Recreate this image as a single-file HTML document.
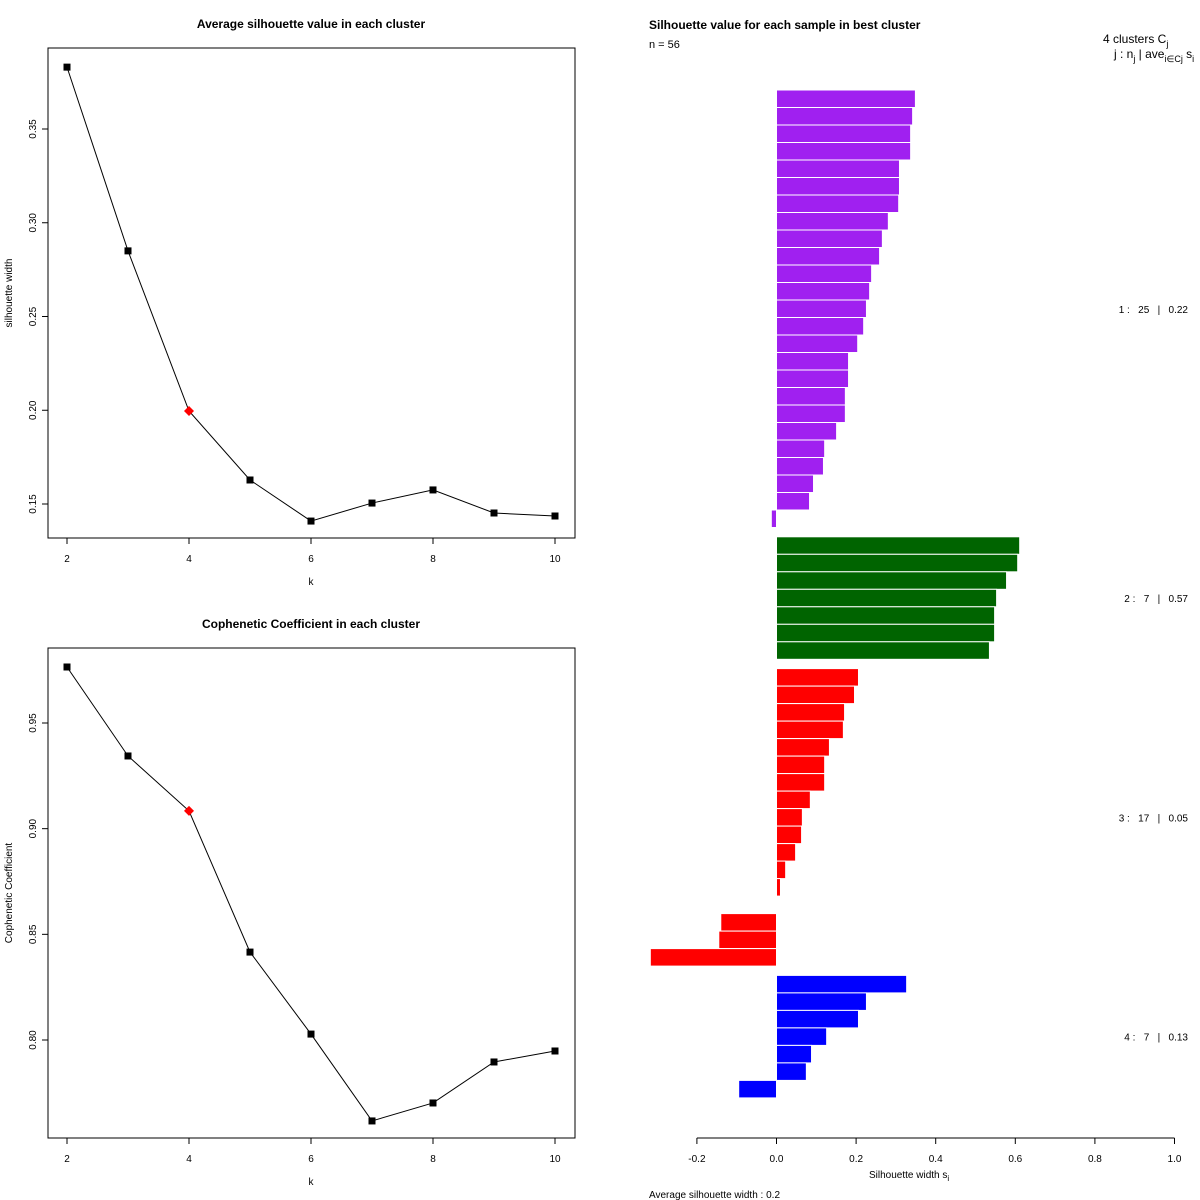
<!DOCTYPE html>
<html><head><meta charset="utf-8"><style>
body{margin:0;background:#fff}
svg{display:block;font-family:"Liberation Sans",sans-serif}
.pre{white-space:pre}
</style></head><body>
<svg id="c" width="1200" height="1200" xmlns="http://www.w3.org/2000/svg"></svg>
<script>
const ks=[2,3,4,5,6,7,8,9,10];
const silAvg=[0.383,0.285,0.1996,0.1628,0.1409,0.1505,0.1575,0.1452,0.1436];
const coph=[0.9765,0.9344,0.9084,0.8416,0.8028,0.7617,0.7702,0.7896,0.7948];
const bestK=4;
const silTicks=[0.15,0.20,0.25,0.30,0.35];
const cophTicks=[0.80,0.85,0.90,0.95];
const kTicks=[2,4,6,8,10];
const clusterSizes=[25,7,17,7];
const clusterAvg=["0.22","0.57","0.05","0.13"];
const clusterColors=["#A020F0","#006400","#FF0000","#0000FF"];
const sampleSil=[
0.349,0.342,0.337,0.337,0.309,0.309,0.307,0.281,0.266,0.259,0.239,0.234,0.226,0.219,0.204,0.181,0.181,0.173,0.173,0.151,0.121,0.118,0.093,0.083,-0.013,
0.611,0.606,0.578,0.553,0.548,0.548,0.535,
0.206,0.196,0.171,0.168,0.133,0.121,0.121,0.085,0.065,0.063,0.048,0.023,0.01,0,-0.14,-0.145,-0.317,
0.327,0.226,0.206,0.126,0.088,0.075,-0.095];
const silXTicks=[-0.2,0,0.2,0.4,0.6,0.8,1.0];

const svg=document.getElementById('c');
const NS='http://www.w3.org/2000/svg';
function el(t,a,p){const e=document.createElementNS(NS,t);for(const k in a)e.setAttribute(k,a[k]);(p||svg).appendChild(e);return e;}
function txt(s,a,p){const e=el('text',a,p);e.textContent=s;return e;}

function linePanel(name,vals,ticks,top,bot,yTop,yBot,tTop,tBot,title,ylab){
  const g=el('g',{});
  
  
  const xs=k=>67+(k-2)*61;
  const ys=v=>yTop+(tTop-v)/(tTop-tBot)*(yBot-yTop);
  const box=el('rect',{x:48,y:top,width:527,height:bot-top,fill:'none',stroke:'#000','stroke-width':1},g);
  
  const t=txt(title,{x:311,y:top-20,'text-anchor':'middle','font-size':12,'font-weight':'bold'},g);
  
  kTicks.forEach(k=>{el('line',{x1:xs(k),x2:xs(k),y1:bot,y2:bot+6,stroke:'#000'},g);
    const l=txt(k,{x:xs(k),y:bot+24,'text-anchor':'middle','font-size':10},g);
    });
  const xl=txt('k',{x:311,y:bot+47,'text-anchor':'middle','font-size':10},g);
  
  ticks.forEach(v=>{const y=ys(v);el('line',{x1:42,x2:48,y1:y,y2:y,stroke:'#000'},g);
    const l=txt(v.toFixed(2),{x:36,y:y,'text-anchor':'middle','font-size':10,transform:`rotate(-90 36 ${y})`},g);
    });
  const my=(top+bot)/2;
  const yl=txt(ylab,{x:12,y:my,'text-anchor':'middle','font-size':10,transform:`rotate(-90 12 ${my})`},g);
  
  const pts=ks.map((k,i)=>xs(k)+','+ys(vals[i])).join(' ');
  const pl=el('polyline',{points:pts,fill:'none',stroke:'#000','stroke-width':1},g);
  
  ks.forEach((k,i)=>{const x=xs(k),y=ys(vals[i]);
    if(k===bestK){const d=el('polygon',{points:`${x},${y-5} ${x+5},${y} ${x},${y+5} ${x-5},${y}`,fill:'#FF0000'},g);
      }
    else{const r=el('rect',{x:x-3.5,y:y-3.5,width:7,height:7,fill:'#000'},g);
      }
  });
}
linePanel('silhouette-panel',silAvg,silTicks,48,538,504,129,0.15,0.35,'Average silhouette value in each cluster','silhouette width');
linePanel('cophenetic-panel',coph,cophTicks,648,1138,1040,723,0.80,0.95,'Cophenetic Coefficient in each cluster','Cophenetic Coefficient');

const sg=el('g',{});


const sx=v=>776.5+v*398;
const h=17.5, gap=9.3, y0=90;
let row=0,y=y0;
clusterSizes.forEach((n,c)=>{
  const cy0=y;
  for(let i=0;i<n;i++){
    const v=sampleSil[row];
    const x1=Math.min(sx(0),sx(v)),w=Math.abs(sx(v)-sx(0));
    const b=el('rect',{x:x1,y:y,width:w,height:h,fill:clusterColors[c],stroke:'#fff','stroke-width':1},sg);
    
    y+=h;row++;
  }
  const lab=txt(`${c+1} :   ${n}   |   ${clusterAvg[c]}`,{x:1188,y:(cy0+y)/2+4,'text-anchor':'end','font-size':10,'class':'pre'},sg);
  
  y+=gap;
});
el('line',{x1:sx(-0.2),x2:sx(1.0),y1:1138,y2:1138,stroke:'#000'},sg);
silXTicks.forEach(v=>{el('line',{x1:sx(v),x2:sx(v),y1:1138,y2:1144,stroke:'#000'},sg);
  const l=txt(v.toFixed(1),{x:sx(v),y:1162,'text-anchor':'middle','font-size':10},sg);
  });
</script>
<div style="position:absolute;left:0;top:0;width:1200px;height:1200px;pointer-events:none">
<svg width="1200" height="1200" style="position:absolute;left:0;top:0">
<text x="649" y="29" font-size="12" font-weight="bold">Silhouette value for each sample in best cluster</text>
<text x="649" y="48" font-size="11">n = 56</text>
<text x="1103" y="43" font-size="12">4  clusters  C<tspan font-size="9" dy="4">j</tspan></text>
<text x="1114" y="58" font-size="12">j :  n<tspan font-size="9" dy="4">j</tspan><tspan dy="-4"> | ave</tspan><tspan font-size="9" dy="4">i∈Cj</tspan><tspan dy="-4"> s</tspan><tspan font-size="9" dy="4">i</tspan></text>
<text x="869" y="1178" font-size="10">Silhouette width s<tspan font-size="8" dy="3">i</tspan></text>
<text x="649" y="1198" font-size="10">Average silhouette width :  0.2</text>
</svg>
</div>
</body></html>
